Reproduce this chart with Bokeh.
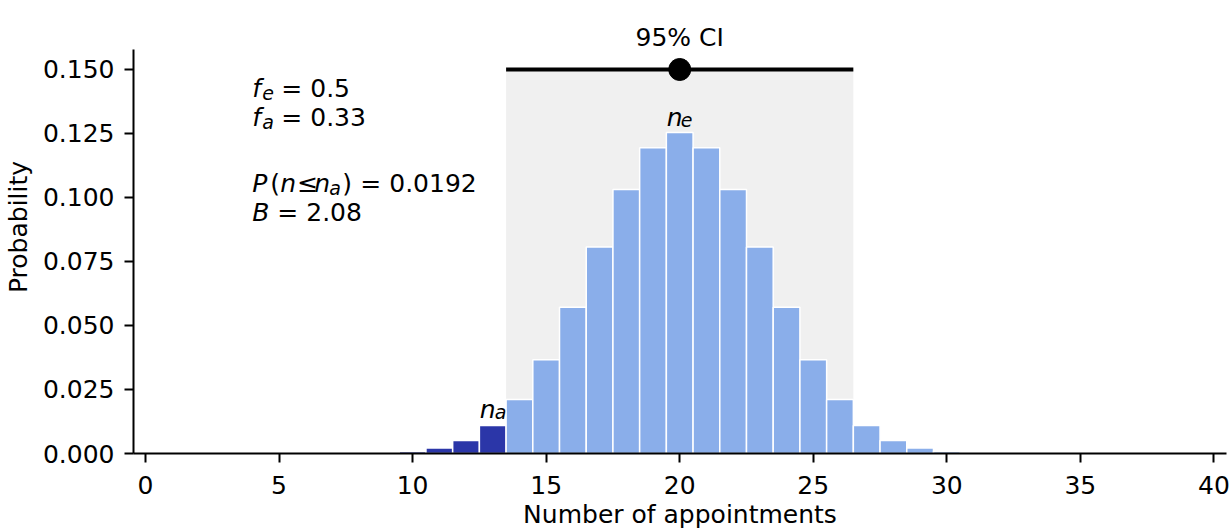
from bokeh.plotting import figure
from bokeh.models import FixedTicker, PrintfTickFormatter, Range1d, ColumnDataSource
from bokeh.core.properties import value
from bokeh.embed import file_html
from bokeh.resources import INLINE

# ---- data ----
counts = [10, 11, 12, 13, 14, 15, 16, 17, 18, 19, 20, 21, 22, 23, 24, 25, 26, 27, 28, 29, 30]
probs = [0.00077, 0.00210, 0.00508, 0.01094, 0.02111, 0.03658, 0.05716, 0.08070,
         0.10312, 0.11940, 0.12537, 0.11940, 0.10312, 0.08070, 0.05716, 0.03658,
         0.02111, 0.01094, 0.00508, 0.00210, 0.00077]
n_actual = 13
n_expected = 20
ci_bounds = [13.5, 26.5]
ci_level = 0.15
x_ticks = [0, 5, 10, 15, 20, 25, 30, 35, 40]
y_ticks = [0.0, 0.025, 0.05, 0.075, 0.1, 0.125, 0.15]
f_e_val = "0.5"
f_a_val = "0.33"
p_val = "0.0192"
b_val = "2.08"
ci_label = "95% CI"
x_label = "Number of appointments"
y_label = "Probability"

LIGHT = "#8aaeea"
DARK = "#2b36a8"
FONT = "DejaVu Sans"
FS = "25px"
SUB = "19px"

bar_colors = [DARK if c <= n_actual else LIGHT for c in counts]
src = ColumnDataSource(dict(x=counts, top=probs, color=bar_colors))

p = figure(width=1231, height=531,
           x_range=Range1d(-0.449, 40.47), y_range=Range1d(0, 0.17695),
           output_backend="svg", toolbar_location=None,
           min_border_left=133, min_border_right=5, min_border_top=0, min_border_bottom=78)
p.outline_line_color = None
p.xgrid.visible = False
p.ygrid.visible = False

# CI shading
p.quad(left=[ci_bounds[0]], right=[ci_bounds[1]], bottom=[0], top=[ci_level],
       fill_color="#f0f0f0", line_color=None)

# bars
p.vbar(x="x", top="top", width=1.0, bottom=0, fill_color="color",
       line_color="white", line_width=1.5, source=src)

# CI line and expected value
p.segment(x0=[ci_bounds[0]], x1=[ci_bounds[1]], y0=[ci_level], y1=[ci_level],
          line_color="black", line_width=4)
p.scatter(x=[n_expected], y=[ci_level], size=22, fill_color="black", line_color="black")


def yimg(img_y):
    return (453 - img_y) / 2560.0


def piece(x, y, txt, dx=0, dy=0, size=FS, style="normal", align="left"):
    p.text(x=[x], y=[y], text=[txt], x_offset=dx, y_offset=dy,
           text_font=value(FONT), text_font_size=value(size),
           text_font_style=style, text_align=align,
           text_baseline="alphabetic", text_color="black")


# 95% CI title
piece(n_expected, yimg(37), ci_label, align="center")

# n_e label
piece(n_expected, yimg(117), "n", dx=-13, style="italic")
piece(n_expected, yimg(117), "e", dx=1, dy=3, size=SUB, style="italic")

# n_a label
piece(n_actual, yimg(409), "n", dx=-13, style="italic")
piece(n_actual, yimg(409), "a", dx=2, dy=3, size=SUB, style="italic")

# annotation block
ax0 = 4.0
y1 = yimg(88)
piece(ax0, y1, "f", dx=0, style="italic")
piece(ax0, y1, "e", dx=10, dy=5, size=SUB, style="italic")
piece(ax0, y1, "= " + f_e_val, dx=29)

y2 = yimg(117)
piece(ax0, y2, "f", dx=0, style="italic")
piece(ax0, y2, "a", dx=10, dy=5, size=SUB, style="italic")
piece(ax0, y2, "= " + f_a_val, dx=29)

y4 = yimg(183)
piece(ax0, y4, "P", dx=0, style="italic")
piece(ax0, y4, "(", dx=18)
piece(ax0, y4, "n", dx=28, style="italic")
piece(ax0, y4, "\u2264", dx=45)
piece(ax0, y4, "n", dx=62, style="italic")
piece(ax0, y4, "a", dx=77, dy=5, size=SUB, style="italic")
piece(ax0, y4, ")", dx=90)
piece(ax0, y4, "= " + p_val, dx=108)

y5 = yimg(212)
piece(ax0, y5, "B", dx=0, style="italic")
piece(ax0, y5, "= " + b_val, dx=25)

# axes
for ax in (p.xaxis[0], p.yaxis[0]):
    ax.axis_line_width = 2
    ax.axis_line_color = "black"
    ax.major_tick_line_width = 2
    ax.major_tick_line_color = "black"
    ax.major_tick_out = 9
    ax.major_tick_in = 0
    ax.minor_tick_line_color = None
    ax.major_label_text_font = FONT
    ax.major_label_text_font_size = FS
    ax.major_label_text_color = "black"
    ax.axis_label_text_font = FONT
    ax.axis_label_text_font_size = FS
    ax.axis_label_text_font_style = "normal"
    ax.axis_label_text_color = "black"

p.xaxis.ticker = FixedTicker(ticks=x_ticks)
p.yaxis.ticker = FixedTicker(ticks=y_ticks)
p.yaxis.formatter = PrintfTickFormatter(format="%.3f")
p.yaxis.bounds = (0, 0.158)
p.xaxis.axis_label = x_label
p.yaxis.axis_label = y_label
p.xaxis.major_label_standoff = 13
p.xaxis.axis_label_standoff = 3
p.yaxis.major_label_standoff = 10
p.yaxis.axis_label_standoff = 7

open("out.html", "w").write(file_html(p, INLINE))
